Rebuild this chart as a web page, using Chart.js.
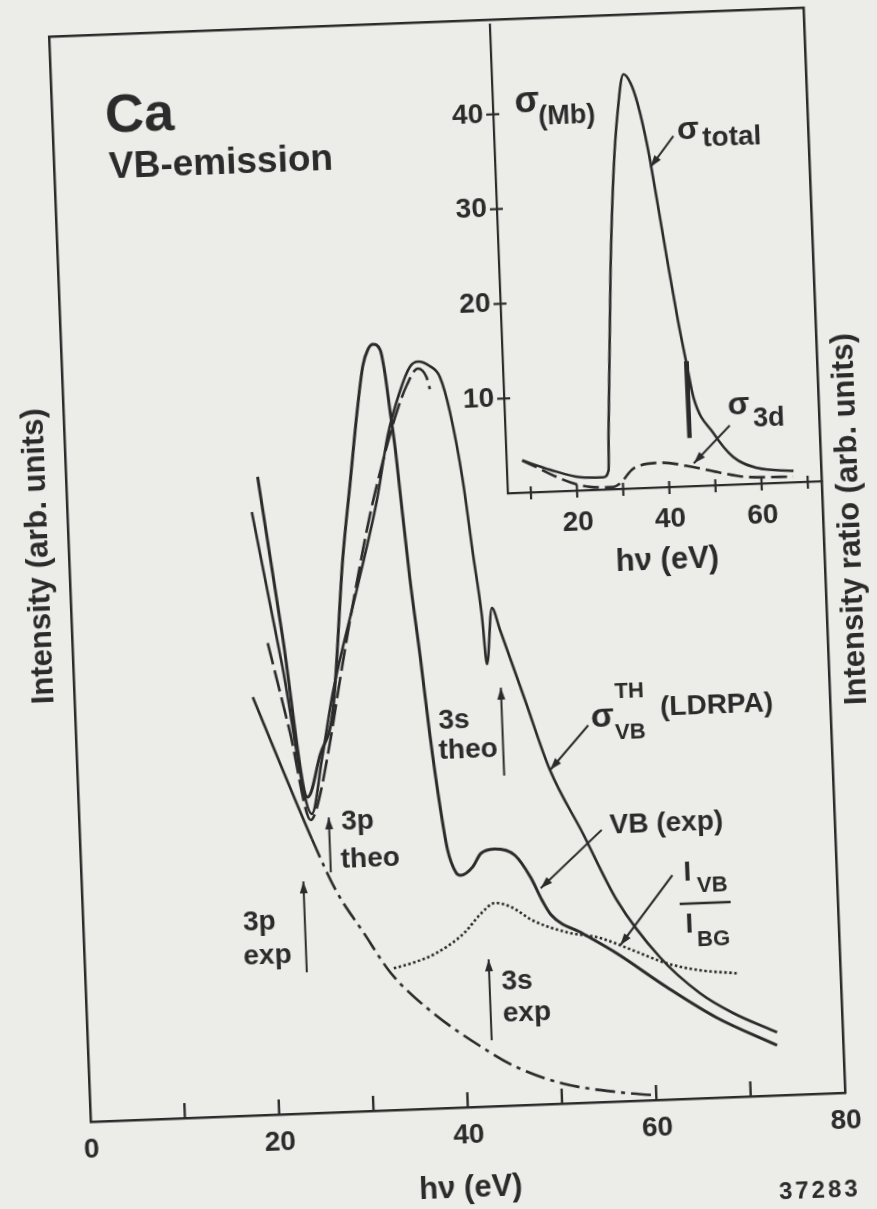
<!DOCTYPE html>
<html>
<head>
<meta charset="utf-8">
<title>Ca VB-emission</title>
<script src="https://cdn.jsdelivr.net/npm/chart.js@4.4.0/dist/chart.umd.min.js"></script>
<style>
  html, body { margin: 0; padding: 0; background: #ecece9; overflow: hidden; }
  /* the scanned figure sits slightly tilted on the page */
  #sheet { position: relative; width: 877px; height: 1240px; transform: rotate(-2.2deg); transform-origin: 438px 604px; }
  #main { position: absolute; left: 0; top: 0; }
  #inset { position: absolute; left: 430px; top: 0; }
</style>
</head>
<body>
<div id="sheet">
  <canvas id="main" width="877" height="1240"></canvas>
  <canvas id="inset" width="447" height="600"></canvas>
</div>
<script>
// main panel: photon energy (eV) vs intensity (arb. units)
const vbExpEv  = [20.3, 22.3, 24.3, 25.8, 27.3, 29.0, 30.1, 31.1, 31.9, 32.5, 33.05, 33.8, 34.2, 34.6, 35.0, 35.3, 36.0, 36.8, 37.5, 38.3, 38.9, 39.7, 40.2, 41.5, 42.4, 43.9, 46.0, 47.6, 48.7, 49.6, 52.9, 56.4, 61.6, 66.7, 73.0];
const vbExpInt = [63.8, 47.7, 31.6, 35.8, 40.0, 55.4, 63.0, 69.9, 74.5, 76.1, 76.6, 76.0, 73.7, 69.8, 66.0, 62.1, 53.2, 45.1, 37.3, 30.0, 25.8, 23.5, 23.2, 24.0, 25.3, 25.7, 25.0, 22.7, 20.4, 18.9, 16.9, 14.8, 11.2, 8.0, 5.0];

const ldrpaEv  = [19.55, 22.1, 24.67, 25.95, 27.38, 30.36, 32.84, 34.27, 35.7, 36.87, 37.74, 38.99, 40.0, 40.93, 42.02, 42.79, 43.49, 43.82, 44.58, 45.34, 47.7, 50.06, 53.3, 56.63, 60.95, 65.05, 68.46, 73.05];
const ldrpaInt = [60.3, 45.1, 29.9, 35.25, 41.9, 52.2, 61.0, 67.5, 71.75, 74.2, 74.7, 74.2, 73.1, 69.55, 62.6, 55.3, 49.0, 44.2, 49.8, 47.6, 40.5, 33.4, 26.9, 20.1, 14.25, 10.5, 8.4, 6.3];

const dashEv  = [20.7, 22.68, 24.54, 25.23, 26.87, 28.18, 29.5, 30.77, 32.03, 33.26, 34.12, 35.32, 36.48, 37.7, 38.6, 38.9];
const dashInt = [47.15, 38.2, 29.3, 30.5, 36.9, 43.1, 49.1, 54.5, 59.5, 63.7, 66.4, 69.8, 72.4, 74.0, 73.1, 71.9];

const bgEv  = [18.9, 21.78, 24.58, 26.9, 29.7, 32.4, 36.4, 42.26, 45.36, 50.17, 56.18, 59.86];
const bgInt = [41.8, 34.4, 27.4, 22.2, 17.8, 13.7, 9.8, 5.6, 3.8, 2.0, 0.9, 0.47];

const ratioEv  = [32.73, 35.0, 37.25, 40.3, 42.18, 43.7, 45.28, 47.66, 51.2, 54.7, 58.1, 61.7, 65.1, 69.05];
const ratioInt = [14.17, 14.7, 15.5, 17.4, 19.3, 20.3, 19.9, 18.4, 17.1, 16.4, 15.05, 13.6, 12.8, 12.35];

// inset: cross sections in Mb
const totalEv = [8.4, 14.4, 20.8, 25.8, 27.0, 27.3, 29.1, 30.6, 31.9, 33.5, 35.0, 36.3, 38.1, 39.8, 41.5, 43.2, 44.9, 46.0, 50.0, 54.1, 59.2, 67.0];
const totalMb = [3.4, 2.3, 1.4, 1.3, 2.0, 5.9, 23.2, 33.7, 39.6, 43.7, 42.7, 40.6, 36.0, 30.0, 23.7, 17.7, 12.5, 9.3, 5.5, 2.9, 1.65, 1.2];

// narrow 3s resonance drawn as a thick stroke below the total curve
const spikeEv = [44.7, 44.8];
const spikeMb = [13.2, 5.1];

const d3Ev = [8.4, 18.6, 22.9, 27.9, 29.5, 32.4, 38.3, 45.4, 51.2, 57.0, 66.9];
const d3Mb = [3.4, 0.9, 0.33, 0.24, 0.63, 2.1, 2.6, 2.0, 1.3, 0.74, 0.6];

// ticks
const mainLabels  = [0, 20, 40, 60, 80];
const mainTicks   = [10, 20, 30, 40, 50, 60, 70];
const insetXLabels = [20, 40, 60];
const insetXTicks  = [10, 20, 30, 40, 50, 60, 70];
const insetYTicks  = [10, 20, 30, 40];

const ink = '#2b2b2b';
const FONT = '"Liberation Sans", Arial, Helvetica, sans-serif';
Chart.defaults.font.family = FONT;
Chart.defaults.color = ink;

const pts = (xs, ys) => xs.map((v, i) => ({ x: v, y: ys[i] }));

function txt(ctx, s, x, y, size, align) {
  ctx.font = 'bold ' + size + 'px ' + FONT;
  ctx.textAlign = align || 'left';
  ctx.textBaseline = 'middle';
  ctx.fillText(s, x, y);
}

function arrow(ctx, x0, y0, x1, y1) {
  ctx.beginPath();
  ctx.moveTo(x0, y0);
  ctx.lineTo(x1, y1);
  ctx.stroke();
  const a = Math.atan2(y1 - y0, x1 - x0), L = 12, W = 4;
  ctx.beginPath();
  ctx.moveTo(x1, y1);
  ctx.lineTo(x1 - L * Math.cos(a) + W * Math.sin(a), y1 - L * Math.sin(a) - W * Math.cos(a));
  ctx.lineTo(x1 - L * Math.cos(a) - W * Math.sin(a), y1 - L * Math.sin(a) + W * Math.cos(a));
  ctx.closePath();
  ctx.fill();
}

const mainNotes = {
  id: 'mainNotes',
  afterDraw(chart) {
    const { ctx, scales: { x, y } } = chart;
    const px = v => x.getPixelForValue(v), py = v => y.getPixelForValue(v);
    ctx.save();
    ctx.strokeStyle = ink;
    ctx.fillStyle = ink;

    // tick marks point into the plot
    ctx.lineWidth = 2.4;
    mainTicks.forEach(v => {
      ctx.beginPath();
      ctx.moveTo(px(v), y.bottom);
      ctx.lineTo(px(v), y.bottom - 15);
      ctx.stroke();
    });

    // arrows, in eV / arb. units
    ctx.lineWidth = 2;
    [[23.5, 14.1, 23.5, 23.2], [26.45, 24.0, 26.45, 29.5], [45.2, 33.0, 45.2, 41.8], [42.8, 6.6, 42.8, 14.7],
     [54.3, 37.7, 50.1, 33.4], [55.3, 27.2, 48.6, 21.6], [62.6, 22.4, 56.8, 15.6]]
      .forEach(a => arrow(ctx, px(a[0]), py(a[1]), px(a[2]), py(a[3])));

    txt(ctx, 'Ca', 124, 105, 54);
    txt(ctx, 'VB-emission', 126, 156, 37);

    txt(ctx, '3p', 231, 915, 28);
    txt(ctx, 'exp', 230, 949, 28);
    txt(ctx, '3p', 333, 818, 28);
    txt(ctx, 'theo', 331, 856, 28);
    txt(ctx, '3s', 434, 721, 28);
    txt(ctx, 'theo', 433, 751, 28);
    txt(ctx, '3s', 487, 984, 28);
    txt(ctx, 'exp', 487, 1016, 28);

    txt(ctx, 'σ', 598, 724, 34, 'center');
    txt(ctx, 'TH', 611, 699, 22);
    txt(ctx, 'VB', 610, 740, 22);
    txt(ctx, '(LDRPA)', 656, 716, 28);

    txt(ctx, 'VB (exp)', 601, 832, 28);

    txt(ctx, 'I', 673, 882, 28);
    txt(ctx, 'VB', 686, 896, 22);
    ctx.lineWidth = 2.4;
    ctx.beginPath();
    ctx.moveTo(668, 913);
    ctx.lineTo(719, 913);
    ctx.stroke();
    txt(ctx, 'I', 673, 934, 28);
    txt(ctx, 'BG', 684, 950, 22);

    ctx.letterSpacing = '3px';
    txt(ctx, '37283', 797, 1205, 24, 'center');
    ctx.letterSpacing = '0px';

    // axis titles, both read bottom to top
    [['Intensity (arb. units)', 41, 541], ['Intensity ratio (arb. units)', 853, 535]].forEach(t => {
      ctx.save();
      ctx.translate(t[1], t[2]);
      ctx.rotate(-Math.PI / 2);
      txt(ctx, t[0], 0, 0, 31, 'center');
      ctx.restore();
    });
    ctx.restore();
  }
};

const insetNotes = {
  id: 'insetNotes',
  afterDraw(chart) {
    const { ctx, scales: { x, y } } = chart;
    const px = v => x.getPixelForValue(v), py = v => y.getPixelForValue(v);
    ctx.save();
    ctx.strokeStyle = ink;
    ctx.fillStyle = ink;
    ctx.lineWidth = 2.2;
    // ticks cross the axes
    insetXTicks.forEach(v => {
      ctx.beginPath();
      ctx.moveTo(px(v), y.bottom - 6);
      ctx.lineTo(px(v), y.bottom + 7);
      ctx.stroke();
    });
    insetYTicks.forEach(v => {
      ctx.beginPath();
      ctx.moveTo(x.left - 7, py(v));
      ctx.lineTo(x.left + 6, py(v));
      ctx.stroke();
    });
    ctx.lineWidth = 2;
    [[43.8, 37.0, 38.6, 33.8], [53.6, 6.25, 45.5, 2.4]]
      .forEach(a => arrow(ctx, px(a[0]), py(a[1]), px(a[2]), py(a[3])));

    txt(ctx, 'σ', 116, 106, 36, 'center');
    txt(ctx, '(Mb)', 127, 122, 27);
    txt(ctx, 'σ', 276, 140, 32, 'center');
    txt(ctx, 'total', 290, 149, 28);
    txt(ctx, 'σ', 316, 417, 32, 'center');
    txt(ctx, '3d', 330, 432, 27);
    ctx.restore();
  }
};

const tickFont = { size: 28, weight: 'bold' };
const titleFont = { size: 31, weight: 'bold' };
const border = { display: true, color: ink, width: 2.5 };

new Chart(document.getElementById('main'), {
  type: 'line',
  data: {
    datasets: [
      { label: 'VB (exp)', data: pts(vbExpEv, vbExpInt), borderWidth: 3 },
      { label: 'σVB TH (LDRPA)', data: pts(ldrpaEv, ldrpaInt) },
      { label: 'calc. (dashed)', data: pts(dashEv, dashInt), borderDash: [22, 6] },
      { label: 'background', data: pts(bgEv, bgInt),
        segment: { borderDash: c => c.p0.parsed.x >= 22.5 ? [20, 6, 4, 6] : undefined } },
      { label: 'I VB / I BG', data: pts(ratioEv, ratioInt), borderDash: [2.5, 2.5], borderWidth: 2.6 }
    ]
  },
  options: {
    responsive: false,
    animation: false,
    layout: { padding: 0 },
    elements: {
      point: { radius: 0 },
      line: { borderColor: ink, borderWidth: 2.6, cubicInterpolationMode: 'monotone', fill: false }
    },
    plugins: { legend: { display: false }, tooltip: { enabled: false } },
    scales: {
      x: {
        type: 'linear', position: 'bottom', min: 0, max: 80,
        afterBuildTicks: s => { s.ticks = mainLabels.map(v => ({ value: v })); },
        afterFit: s => { s.height = 132; },
        grid: { display: false, drawTicks: false },
        border: border,
        ticks: { font: tickFont, padding: 11, autoSkip: false, maxRotation: 0 },
        title: { display: true, text: 'hν (eV)', font: titleFont, padding: { bottom: 32 } }
      },
      xTop: {
        type: 'linear', position: 'top', min: 0, max: 80,
        afterFit: s => { s.height = 22; },
        grid: { display: false, drawTicks: false },
        border: border,
        ticks: { display: false }
      },
      y: {
        type: 'linear', position: 'left', min: 0, max: 108.6,
        afterFit: s => { s.width = 71; },
        grid: { display: false, drawTicks: false },
        border: border,
        ticks: { display: false }
      },
      yRight: {
        type: 'linear', position: 'right', min: 0, max: 1,
        afterFit: s => { s.width = 51; },
        grid: { display: false, drawTicks: false },
        border: border,
        ticks: { display: false }
      }
    }
  },
  plugins: [mainNotes]
});

new Chart(document.getElementById('inset'), {
  type: 'line',
  data: {
    datasets: [
      { label: 'σ total', data: pts(totalEv, totalMb), borderWidth: 2.6 },
      { label: '3s resonance', data: pts(spikeEv, spikeMb), borderWidth: 4.5, cubicInterpolationMode: 'default', tension: 0 },
      { label: 'σ 3d', data: pts(d3Ev, d3Mb), borderDash: [16, 6], borderWidth: 2.6 }
    ]
  },
  options: {
    responsive: false,
    animation: false,
    layout: { padding: { top: 22, right: 51 } },
    elements: {
      point: { radius: 0 },
      line: { borderColor: ink, cubicInterpolationMode: 'monotone', fill: false }
    },
    plugins: { legend: { display: false }, tooltip: { enabled: false } },
    scales: {
      x: {
        type: 'linear', min: 5, max: 73,
        afterBuildTicks: s => { s.ticks = insetXLabels.map(v => ({ value: v })); },
        afterFit: s => { s.height = 104; },
        grid: { display: false, drawTicks: false },
        border: { display: true, color: ink, width: 2.2 },
        ticks: { font: tickFont, padding: 15, autoSkip: false, maxRotation: 0 },
        title: { display: true, text: 'hν (eV)', font: titleFont, padding: { bottom: 12 } }
      },
      y: {
        type: 'linear', min: 0, max: 49.5,
        afterBuildTicks: s => { s.ticks = insetYTicks.map(v => ({ value: v })); },
        afterFit: s => { s.width = 82; },
        grid: { display: false, drawTicks: false },
        border: { display: true, color: ink, width: 2.2 },
        ticks: { font: tickFont, padding: 10 }
      }
    }
  },
  plugins: [insetNotes]
});
</script>
</body>
</html>
